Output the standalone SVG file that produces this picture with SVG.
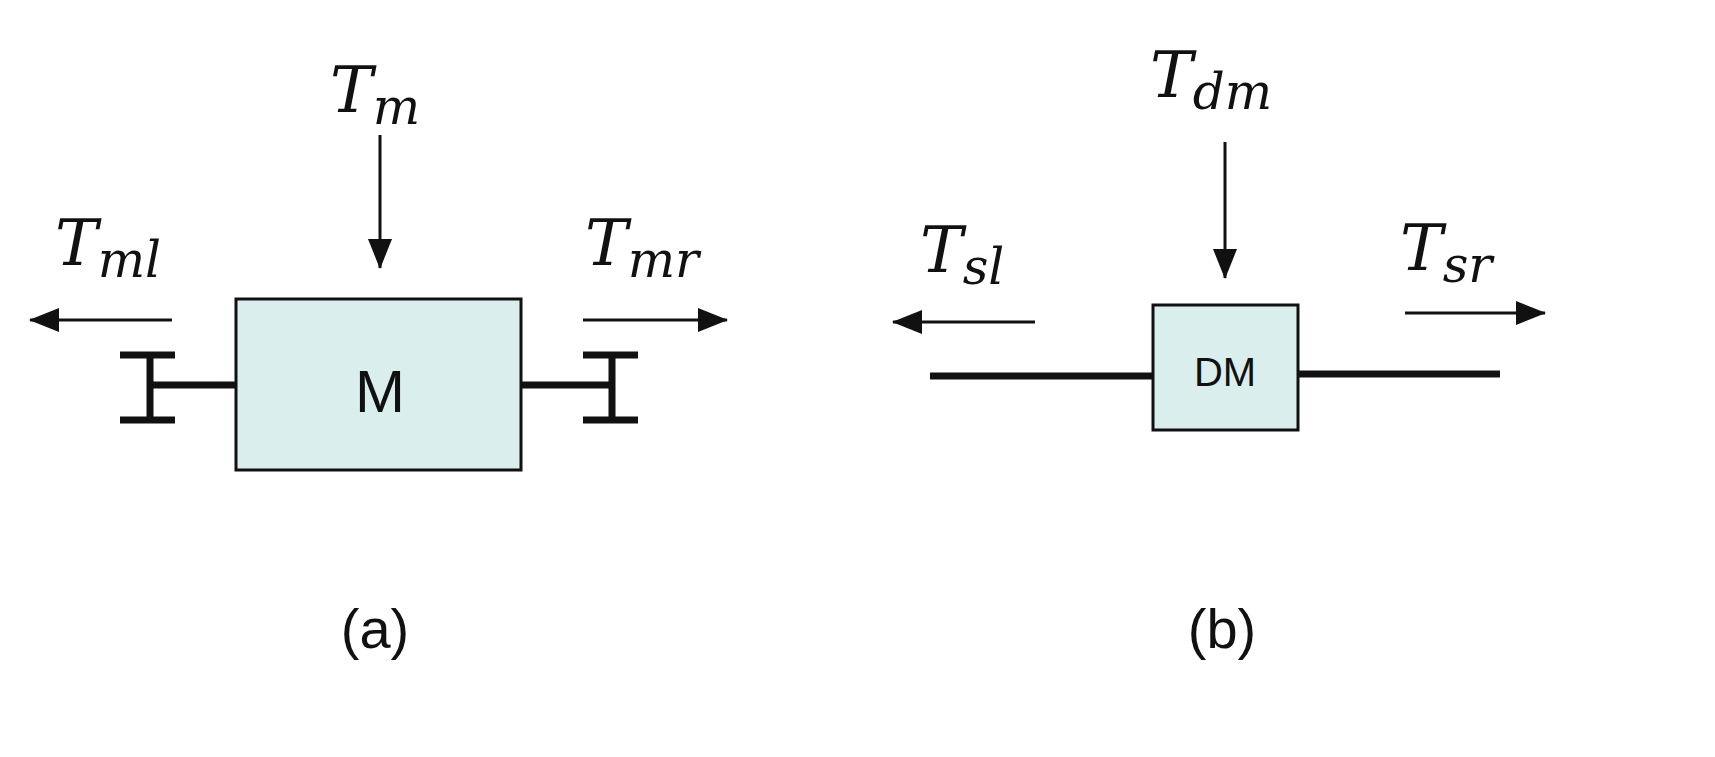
<svg xmlns="http://www.w3.org/2000/svg" width="1715" height="757" viewBox="0 0 1715 757">
<style>
.box{fill:#daeeee;stroke:#111;stroke-width:3}
.ln{stroke:#111;stroke-width:3;fill:none}
.th{stroke:#111;stroke-width:7;fill:none}
.m{font-family:"DejaVu Serif","Liberation Serif",serif;font-style:italic;fill:#111}
.s{font-family:"Liberation Sans",Arial,sans-serif;fill:#111}
</style>
<defs>
<marker id="a" markerWidth="30" markerHeight="24" refX="29" refY="12" orient="auto" markerUnits="userSpaceOnUse"><path d="M0,0L30,12L0,24z" fill="#111"/></marker></defs>
<g id="connectors">
<line class="ln" x1="380" y1="135" x2="380" y2="268" marker-end="url(#a)"/>
<line class="ln" x1="172" y1="320" x2="30" y2="320" marker-end="url(#a)"/>
<line class="ln" x1="583" y1="320" x2="727" y2="320" marker-end="url(#a)"/>
<line class="th" x1="150" y1="385" x2="236" y2="385"/>
<line class="th" x1="521" y1="385" x2="610" y2="385"/>
<path class="th" d="M150,355V420M120,355H175M120,420H175"/>
<path class="th" d="M612,355V420M583,355H638M583,420H638"/>
<line class="ln" x1="1225" y1="142" x2="1225" y2="278" marker-end="url(#a)"/>
<line class="ln" x1="1035" y1="322" x2="893" y2="322" marker-end="url(#a)"/>
<line class="ln" x1="1405" y1="313" x2="1545" y2="313" marker-end="url(#a)"/>
<line class="th" x1="930" y1="376" x2="1153" y2="376"/>
<line class="th" x1="1298" y1="374" x2="1500" y2="374"/>
</g>
<g id="nodeM"><rect class="box" x="236" y="299" width="285" height="171"/><text class="s" x="380" y="412" font-size="60" text-anchor="middle">M</text></g>
<g id="nodeDM"><rect class="box" x="1153" y="305" width="145" height="125"/><text class="s" x="1225" y="386" font-size="40" text-anchor="middle">DM</text></g>
<g id="labels">
<text class="m" x="330" y="112" font-size="64">T<tspan font-size="50" dy="12">m</tspan></text>
<text class="m" x="55" y="265" font-size="64">T<tspan font-size="50" dy="12">ml</tspan></text>
<text class="m" x="585" y="265" font-size="64">T<tspan font-size="50" dy="12">mr</tspan></text>
<text class="m" x="1150" y="97" font-size="64">T<tspan font-size="50" dy="12">dm</tspan></text>
<text class="m" x="920" y="272" font-size="64">T<tspan font-size="50" dy="12">sl</tspan></text>
<text class="m" x="1400" y="270" font-size="64">T<tspan font-size="50" dy="12">sr</tspan></text>
<text class="s" x="375" y="648" font-size="56" text-anchor="middle">(a)</text>
<text class="s" x="1222" y="648" font-size="56" text-anchor="middle">(b)</text>
</g>
</svg>
